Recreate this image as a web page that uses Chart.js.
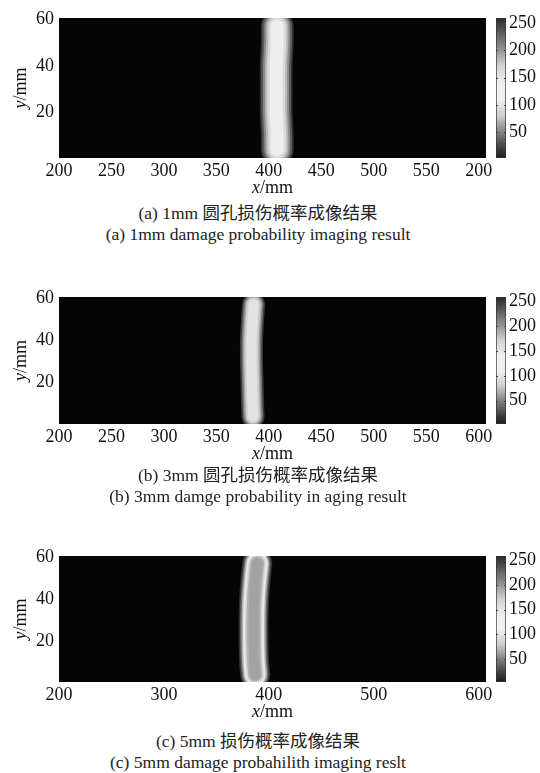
<!DOCTYPE html>
<html>
<head>
<meta charset="utf-8">
<script src="https://cdn.jsdelivr.net/npm/chart.js@4.4.1/dist/chart.umd.min.js"></script>
<style>
body { margin: 0; background: #fff; width: 540px; height: 773px; position: relative; overflow: hidden;
       font-family: "Liberation Serif", "Noto Sans CJK SC", serif; color: #222; }
canvas { position: absolute; }
.cap { position: absolute; left: 0; width: 516px; text-align: center; font-size: 17.5px; line-height: 21px; }
</style>
</head>
<body>
<canvas id="mapA" style="left:0;top:0" width="500" height="200"></canvas>
<canvas id="barA" style="left:490px;top:0" width="46" height="200"></canvas>
<div class="cap" style="top:203px">(a) 1mm 圆孔损伤概率成像结果<br>(a) 1mm damage probability imaging result</div>

<canvas id="mapB" style="left:0;top:279px" width="500" height="187"></canvas>
<canvas id="barB" style="left:490px;top:279px" width="46" height="187"></canvas>
<div class="cap" style="top:465px">(b) 3mm 圆孔损伤概率成像结果<br>(b) 3mm damge probability in aging result</div>

<canvas id="mapC" style="left:0;top:538px" width="500" height="186"></canvas>
<canvas id="barC" style="left:490px;top:538px" width="46" height="186"></canvas>
<div class="cap" style="top:731px">(c) 5mm 损伤概率成像结果<br>(c) 5mm damage probahilith imaging reslt</div>

<script>
// tick values and labels (the first figure really labels its last tick "200")
var yTicks = [20, 40, 60];
var xTicksAB = [200, 250, 300, 350, 400, 450, 500, 550, 600];
var xLabelsA = ['200', '250', '300', '350', '400', '450', '500', '550', '200'];
var xLabelsB = ['200', '250', '300', '350', '400', '450', '500', '550', '600'];
var xTicksC = [200, 300, 400, 500, 600];
var xLabelsC = ['200', '300', '400', '500', '600'];
var cbTicks = [50, 100, 150, 200, 250];

// centre line of the bright damage band, x/mm at each y/mm
var stripeY = [4, 10, 20, 30, 40, 50, 57];
var stripeXA = [408, 408, 407, 407, 407, 408, 408];
var stripeXB = [385, 384.5, 384, 383.5, 383.5, 384.5, 385.5];
var stripeXC = [387, 386, 385.5, 385.5, 386, 387.5, 389];

// colour bar: value -> grey level
var cbMin = 3, cbMax = 259;
var cmapLevels = [3, 20, 50, 80, 110, 140, 170, 200, 230, 259];
var cmapGreys = [30, 60, 130, 205, 240, 238, 212, 150, 95, 40];

var tickFont = { family: 'Liberation Serif', size: 18 };

// band layers, narrowest first (dataset 0 is painted last)
var layersA = [[13, '#eeeeee'], [18, '#dadada'], [22, '#b8b8b8'], [26, '#8c8c8c'], [30, '#585858'], [33, '#2a2a2a']];
var layersB = [[10, '#e4e4e4'], [14, '#cfcfcf'], [17, '#a5a5a5'], [20, '#707070'], [23, '#3a3a3a']];
var layersC = [[10, '#a2a2a2'], [14, '#b0b0b0'], [17, '#d4d4d4'], [21, '#e8e8e8'], [24, '#b0b0b0'], [27, '#6a6a6a'], [30, '#303030']];

function stripeSets(xs, layers) {
    return layers.map(function (l) {
        return {
            data: xs.map(function (x, i) { return { x: x, y: stripeY[i] }; }),
            showLine: true,
            borderColor: l[1],
            borderWidth: l[0],
            pointRadius: 0,
            borderCapStyle: 'round',
            borderJoinStyle: 'round',
            tension: 0.3,
            clip: 0
        };
    });
}

function drawMixed(ctx, cx, cy, letter) {
    var it = 'italic 18px "Liberation Serif"', rm = '18px "Liberation Serif"';
    ctx.save();
    ctx.font = it;
    var w1 = ctx.measureText(letter).width;
    ctx.font = rm;
    var w2 = ctx.measureText('/mm').width;
    var x0 = cx - (w1 + w2) / 2;
    ctx.fillStyle = '#111';
    ctx.textBaseline = 'middle';
    ctx.textAlign = 'left';
    ctx.font = it;
    ctx.fillText(letter, x0, cy);
    ctx.font = rm;
    ctx.fillText('/mm', x0 + w1, cy);
    ctx.restore();
}

// black image background + axis titles with italic letter
var mapDeco = {
    id: 'mapDeco',
    beforeDatasetsDraw: function (chart) {
        var a = chart.chartArea, ctx = chart.ctx;
        ctx.save();
        ctx.fillStyle = '#050505';
        ctx.fillRect(a.left, a.top, a.right - a.left, a.bottom - a.top);
        ctx.restore();
    },
    afterDraw: function (chart) {
        var a = chart.chartArea, ctx = chart.ctx;
        drawMixed(ctx, (a.left + a.right) / 2, a.bottom + 30, 'x');
        ctx.save();
        ctx.translate(21, (a.top + a.bottom) / 2);
        ctx.rotate(-Math.PI / 2);
        drawMixed(ctx, 0, 0, 'y');
        ctx.restore();
    }
};

function makeMap(id, xs, layers, xTicks, xLabels) {
    new Chart(document.getElementById(id), {
        type: 'scatter',
        data: { datasets: stripeSets(xs, layers) },
        options: {
            responsive: false,
            animation: false,
            events: [],
            layout: { padding: { top: 18, right: 14, bottom: 0, left: 0 } },
            plugins: { legend: { display: false }, tooltip: { enabled: false } },
            scales: {
                x: {
                    type: 'linear', min: 200, max: 607,
                    grid: { display: false, drawTicks: false },
                    border: { display: false },
                    afterBuildTicks: function (s) { s.ticks = xTicks.map(function (v) { return { value: v }; }); },
                    ticks: {
                        padding: 2, color: '#111', font: tickFont, maxRotation: 0, autoSkip: false,
                        callback: function (v, i) { return xLabels[i]; }
                    },
                    afterFit: function (s) { s.height = 42; }
                },
                y: {
                    type: 'linear', min: 0.5, max: 60.5,
                    grid: { display: false, drawTicks: false },
                    border: { display: false },
                    afterBuildTicks: function (s) { s.ticks = yTicks.map(function (v) { return { value: v }; }); },
                    ticks: { padding: 5, color: '#111', font: tickFont },
                    afterFit: function (s) { s.width = 59; }
                }
            }
        },
        plugins: [mapDeco]
    });
}

var cbMarks = {
    id: 'cbMarks',
    afterDatasetsDraw: function (chart) {
        var a = chart.chartArea, ctx = chart.ctx, y = chart.scales.y;
        ctx.save();
        ctx.strokeStyle = '#444';
        ctx.lineWidth = 1;
        cbTicks.forEach(function (v) {
            var py = Math.round(y.getPixelForValue(v)) + 0.5;
            ctx.beginPath();
            ctx.moveTo(a.left, py); ctx.lineTo(a.left + 2, py);
            ctx.moveTo(a.right - 2, py); ctx.lineTo(a.right, py);
            ctx.stroke();
        });
        ctx.restore();
    }
};

function cbGradient(c) {
    var ch = c.chart;
    if (!ch.chartArea) return '#888';
    var y = ch.scales.y;
    var g = ch.ctx.createLinearGradient(0, y.getPixelForValue(cbMin), 0, y.getPixelForValue(cbMax));
    cmapLevels.forEach(function (v, i) {
        var k = cmapGreys[i];
        g.addColorStop((v - cbMin) / (cbMax - cbMin), 'rgb(' + k + ',' + k + ',' + k + ')');
    });
    return g;
}

function makeBar(id) {
    new Chart(document.getElementById(id), {
        type: 'bar',
        data: {
            labels: [''],
            datasets: [{
                data: [[cbMin, cbMax]],
                backgroundColor: cbGradient,
                borderColor: '#333',
                borderWidth: 1,
                borderSkipped: false,
                barPercentage: 1,
                categoryPercentage: 1
            }]
        },
        options: {
            responsive: false,
            animation: false,
            events: [],
            layout: { padding: { top: 18, bottom: 42, left: 6, right: 0 } },
            plugins: { legend: { display: false }, tooltip: { enabled: false } },
            scales: {
                x: { display: false },
                y: {
                    position: 'right', min: cbMin, max: cbMax,
                    grid: { display: false, drawTicks: false },
                    border: { display: false },
                    afterBuildTicks: function (s) { s.ticks = cbTicks.map(function (v) { return { value: v }; }); },
                    ticks: { padding: 3, color: '#111', font: tickFont },
                    afterFit: function (s) { s.width = 30; }
                }
            }
        },
        plugins: [cbMarks]
    });
}

makeMap('mapA', stripeXA, layersA, xTicksAB, xLabelsA);
makeMap('mapB', stripeXB, layersB, xTicksAB, xLabelsB);
makeMap('mapC', stripeXC, layersC, xTicksC, xLabelsC);
makeBar('barA');
makeBar('barB');
makeBar('barC');
</script>
</body>
</html>
